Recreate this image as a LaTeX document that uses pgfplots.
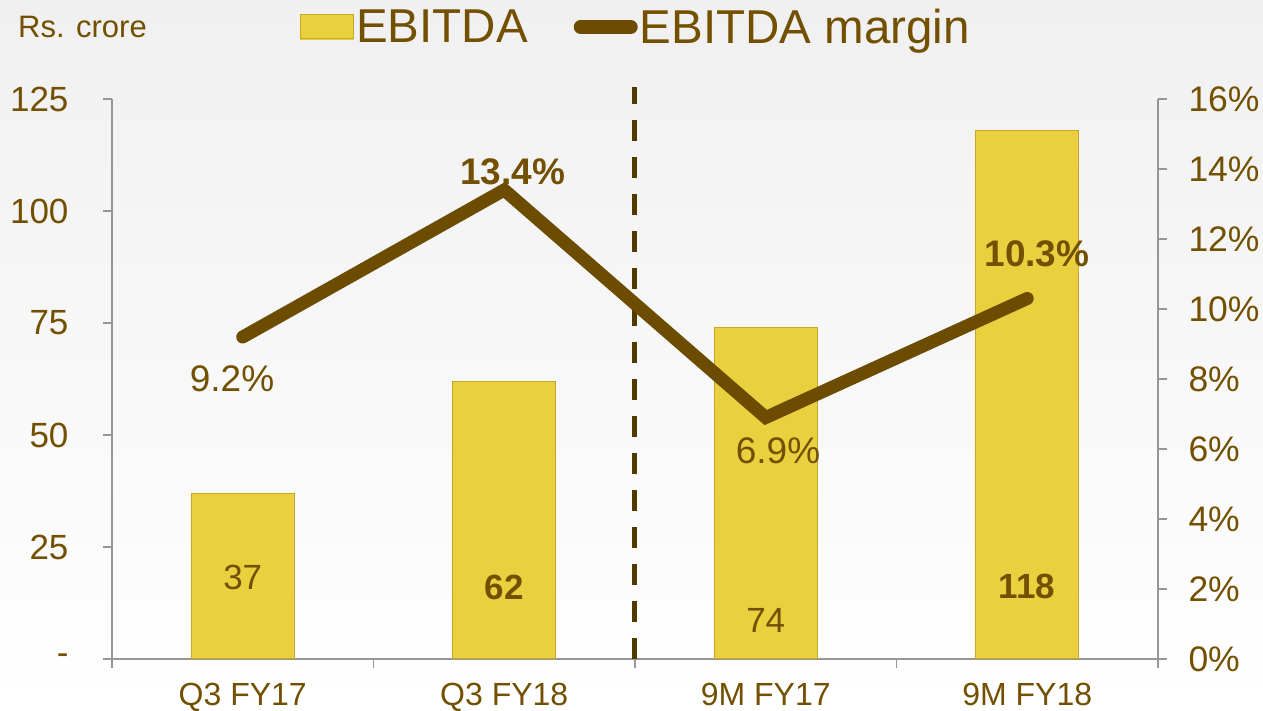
\documentclass[border=0pt]{standalone}
\usepackage{fontspec}
\setmainfont{Liberation Sans}
\usepackage{pgfplots}
\pgfplotsset{compat=1.18}
\definecolor{brn}{RGB}{114,80,0}
\definecolor{ln}{RGB}{107,76,0}
\definecolor{bary}{RGB}{234,208,62}
\definecolor{bard}{RGB}{196,168,40}
\definecolor{axg}{RGB}{150,150,150}
\definecolor{dsh}{RGB}{80,58,0}
\begin{document}
\begin{tikzpicture}
\shade[top color={rgb,255:red,240;green,240;blue,240}, bottom color=white] (0,0) rectangle (1263pt,711pt);
\useasboundingbox (0,0) rectangle (1263pt,711pt);
\begin{axis}[at={(112pt,52pt)}, anchor=south west, scale only axis,
  width=1046pt, height=560pt,
  xmin=-0.5, xmax=3.5, ymin=0, ymax=125, clip=false,
  axis x line*=bottom, axis y line*=left,
  axis line style={axg, line width=1.5pt, -},
  xtick={-0.5,0.5,1.5,2.5,3.5}, x tick label as interval,
  xticklabels={Q3 FY17,Q3 FY18,9M FY17,9M FY18},
  ytick={0,25,50,75,100,125}, yticklabels={-,25,50,75,100,125},
  tick align=outside, major tick length=9pt,
  tick style={axg, line width=1.5pt},
  /pgf/number format/assume math mode=true,
  x tick label style={text=brn, font=\fontsize{32}{34}\selectfont, yshift=-12pt},
  y tick label style={text=brn, font=\fontsize{35}{38}\selectfont, xshift=-31pt},
]
\addplot[ybar, bar width=103pt, fill=bary, draw=bard, line width=1pt] coordinates {(0,37) (1,62) (2,74) (3,118)};
\draw[dsh, line width=5pt, dash pattern=on 21pt off 16pt] (axis cs:1.5,0) -- (axis cs:1.5,127.7);
\node[text=brn, font=\fontsize{35}{38}\selectfont] at (axis cs:0,18.1) {37};
\node[text=brn, font=\fontsize{35}{38}\selectfont\bfseries] at (axis cs:1,15.9) {62};
\node[text=brn, font=\fontsize{35}{38}\selectfont] at (axis cs:2,8.5) {74};
\node[text=brn, font=\fontsize{35}{38}\selectfont\bfseries] at (axis cs:3,16.1) {118};
\end{axis}
\begin{axis}[at={(112pt,52pt)}, anchor=south west, scale only axis,
  width=1046pt, height=560pt,
  xmin=-0.5, xmax=3.5, ymin=0, ymax=16, clip=false,
  axis x line=none, axis y line*=right,
  axis line style={axg, line width=1.5pt, -},
  ytick={0,2,4,6,8,10,12,14,16},
  yticklabels={0\%,2\%,4\%,6\%,8\%,10\%,12\%,14\%,16\%},
  tick align=outside, major tick length=9pt,
  tick style={axg, line width=1.5pt},
  /pgf/number format/assume math mode=true,
  y tick label style={text=brn, font=\fontsize{35.5}{38}\selectfont, xshift=18pt},
  legend columns=2,
  legend style={at={(0.1797,1.1286)}, anchor=west, draw=none, fill=none,
    inner sep=0pt, font=\fontsize{47.5}{50}\selectfont, text=brn,
    /tikz/every even column/.append style={column sep=44pt},
    nodes={inner sep=2pt}},
]
\addlegendimage{legend image code/.code={\fill[bary] (0pt,-12pt) rectangle (53pt,12pt); \draw[bard, line width=1pt] (0pt,-12pt) rectangle (53pt,12pt);}}
\addlegendentry{EBITDA}
\addplot[ln, line width=13pt, line join=miter, line cap=round,
  legend image code/.code={\draw[ln, line width=14pt, line cap=round] (7pt,0pt) -- (57pt,0pt);}]
  coordinates {(0,9.2) (1,13.4) (2,6.9) (3,10.3)};
\addlegendentry{EBITDA margin}
\node[text=brn, font=\fontsize{37}{40}\selectfont] at (axis cs:-0.041,8.0) {9.2\%};
\node[text=brn, font=\fontsize{37}{40}\selectfont\bfseries] at (axis cs:1.033,13.93) {13.4\%};
\node[text=brn, font=\fontsize{37}{40}\selectfont] at (axis cs:2.047,5.95) {6.9\%};
\node[text=brn, font=\fontsize{37}{40}\selectfont\bfseries] at (axis cs:3.037,11.57) {10.3\%};
\end{axis}
\node[anchor=west, text=brn, font=\fontsize{31}{34}\selectfont, inner sep=0pt] at (18pt,684pt) {Rs. crore};
\end{tikzpicture}
\end{document}
